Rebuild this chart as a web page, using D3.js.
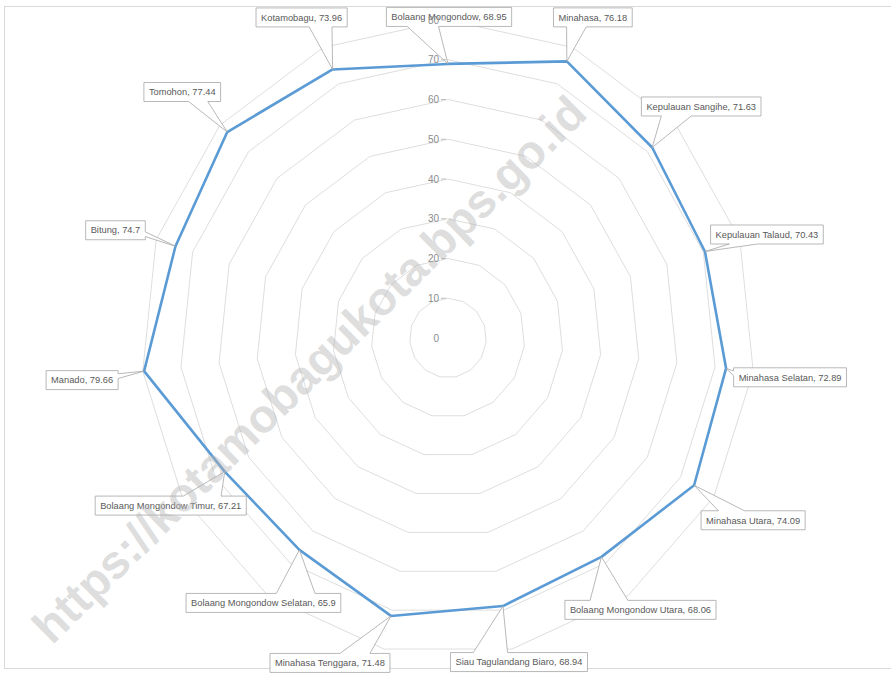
<!DOCTYPE html>
<html lang="en">
<head>
    <title>Radar Kabupaten/Kota Sulawesi Utara</title>
    <script src="https://d3js.org/d3.v7.min.js"></script>
    <style>
        body{
            margin: 0;
            background-color: white;
        }
        svg{
            display: block;
        }
        text{
            font-family: "Liberation Sans", Arial, sans-serif;
        }
    </style>
</head>
<body>
    <div id="my_dataviz"></div>

    <script>

    // categories, clockwise from the top
    var regions = [
        "Bolaang Mongondow", "Minahasa", "Kepulauan Sangihe", "Kepulauan Talaud",
        "Minahasa Selatan", "Minahasa Utara", "Bolaang Mongondow Utara",
        "Siau Tagulandang Biaro", "Minahasa Tenggara", "Bolaang Mongondow Selatan",
        "Bolaang Mongondow Timur", "Manado", "Bitung", "Tomohon", "Kotamobagu"
    ]
    var values = [68.95, 76.18, 71.63, 70.43, 72.89, 74.09, 68.06, 68.94, 71.48, 65.9, 67.21, 79.66, 74.7, 77.44, 73.96]
    var ticks = [0, 10, 20, 30, 40, 50, 60, 70, 80]

    // where each callout box sits relative to its point
    var labelOffsets = [
        [1, -47], [26, -44], [49, -41], [62, -17], [64, 9], [59, 35], [39, 53], [16, 56],
        [-61, 47], [-36, 53], [-54, 34], [-62, 9], [-60, -16], [-45, -40], [-31, -52]
    ]

    var width = 891
    var height = 673
    var cx = 448
    var cy = 338
    var xStretch = 0.965   // the scanned page is slightly narrower than tall

    var svg = d3.select("#my_dataviz")
      .append("svg")
        .attr("width", width)
        .attr("height", height)

    // chart area border
    svg.append("rect")
        .attr("x", 4.5)
        .attr("y", 6.5)
        .attr("width", 920)
        .attr("height", 662)
        .attr("fill", "white")
        .attr("stroke", "#d9d9d9")

    var rScale = d3.scaleLinear()
        .domain([0, 80])
        .range([0, 318])

    var angleScale = d3.scaleLinear()
        .domain([0, regions.length])
        .range([0, 2 * Math.PI])

    function px(i, v){ return cx + rScale(v) * Math.sin(angleScale(i)) * xStretch }
    function py(i, v){ return cy - rScale(v) * Math.cos(angleScale(i)) }

    var ring = d3.line()
        .x(d => d[0])
        .y(d => d[1])
        .curve(d3.curveLinearClosed)

    // polygon gridlines
    svg.append("g")
        .selectAll("path.grid")
        .data(ticks.slice(1))
        .enter()
        .append("path")
            .attr("class", "grid")
            .attr("d", t => ring(regions.map((r, i) => [px(i, t), py(i, t)])))
            .attr("fill", "none")
            .attr("stroke", "#dedede")
            .attr("stroke-width", 1)

    // series line
    svg.append("path")
        .attr("d", ring(values.map((v, i) => [px(i, v), py(i, v)])))
        .attr("fill", "none")
        .attr("stroke", "#5b9bd5")
        .attr("stroke-width", 2.6)
        .attr("stroke-linejoin", "round")

    // rectangle callout with a wedge pointing at (tx, ty), like Excel's wedgeRectCallout
    function calloutPath(x0, y0, w, h, tx, ty){
        var dxPos = tx - (x0 + w / 2)
        var dyPos = ty - (y0 + h / 2)
        var dq = dxPos * h / w
        var x1 = x0 + w * (dxPos > 0 ? 7 : 2) / 12
        var x2 = x0 + w * (dxPos > 0 ? 10 : 5) / 12
        var y1 = y0 + h * (dyPos > 0 ? 7 : 2) / 12
        var y2 = y0 + h * (dyPos > 0 ? 10 : 5) / 12
        var p = d3.path()
        p.moveTo(x0, y0)
        if (Math.abs(dyPos) > Math.abs(dq)) {
            if (dyPos < 0) {
                p.lineTo(x1, y0); p.lineTo(tx, ty); p.lineTo(x2, y0)
                p.lineTo(x0 + w, y0); p.lineTo(x0 + w, y0 + h); p.lineTo(x0, y0 + h)
            } else {
                p.lineTo(x0 + w, y0); p.lineTo(x0 + w, y0 + h)
                p.lineTo(x2, y0 + h); p.lineTo(tx, ty); p.lineTo(x1, y0 + h)
                p.lineTo(x0, y0 + h)
            }
        } else {
            if (dxPos > 0) {
                p.lineTo(x0 + w, y0); p.lineTo(x0 + w, y1); p.lineTo(tx, ty)
                p.lineTo(x0 + w, y2); p.lineTo(x0 + w, y0 + h); p.lineTo(x0, y0 + h)
            } else {
                p.lineTo(x0 + w, y0); p.lineTo(x0 + w, y0 + h); p.lineTo(x0, y0 + h)
                p.lineTo(x0, y2); p.lineTo(tx, ty); p.lineTo(x0, y1)
            }
        }
        p.closePath()
        return p.toString()
    }

    // data callouts
    var callouts = svg.append("g")
        .selectAll("g.callout")
        .data(regions)
        .enter()
        .append("g")
        .attr("class", "callout")

    callouts.each(function(name, i){
        var g = d3.select(this)
        var tx = px(i, values[i])
        var ty = py(i, values[i])
        var bx = tx + labelOffsets[i][0]
        var by = ty + labelOffsets[i][1]

        var path = g.append("path")
        var label = g.append("text")
            .attr("x", bx)
            .attr("y", by)
            .attr("dy", "0.35em")
            .attr("text-anchor", "middle")
            .attr("fill", "#595959")
            .style("font-size", "9.3px")
            .text(name + ", " + values[i])

        var w = label.node().getComputedTextLength() + 10
        var h = 19
        path
            .attr("d", calloutPath(bx - w / 2, by - h / 2, w, h, tx, ty))
            .attr("fill", "white")
            .attr("stroke", "#a6a6a6")
            .attr("stroke-width", 0.8)
    })

    // value axis labels + ticks, drawn over the callouts as in the original
    var axis = svg.append("g")
    axis.selectAll("text")
        .data(ticks)
        .enter()
        .append("text")
            .attr("x", cx - 9)
            .attr("y", t => cy - rScale(t))
            .attr("dy", "0.35em")
            .attr("text-anchor", "end")
            .attr("fill", "#8c8c8c")
            .style("font-size", "10px")
            .text(t => t)
    axis.selectAll("line")
        .data(ticks.slice(1))
        .enter()
        .append("line")
            .attr("x1", cx - 7)
            .attr("x2", cx - 2)
            .attr("y1", t => cy - rScale(t))
            .attr("y2", t => cy - rScale(t))
            .attr("stroke", "#bfbfbf")

    // watermark
    svg.append("text")
        .attr("transform", "translate(309,369) rotate(-44.6)")
        .attr("text-anchor", "middle")
        .attr("dy", "0.35em")
        .attr("fill", "#b4b4b4")
        .attr("fill-opacity", 0.45)
        .style("font-size", "47px")
        .style("font-weight", "bold")
        .text("https://kotamobagukota.bps.go.id")

    </script>
</body>
</html>
